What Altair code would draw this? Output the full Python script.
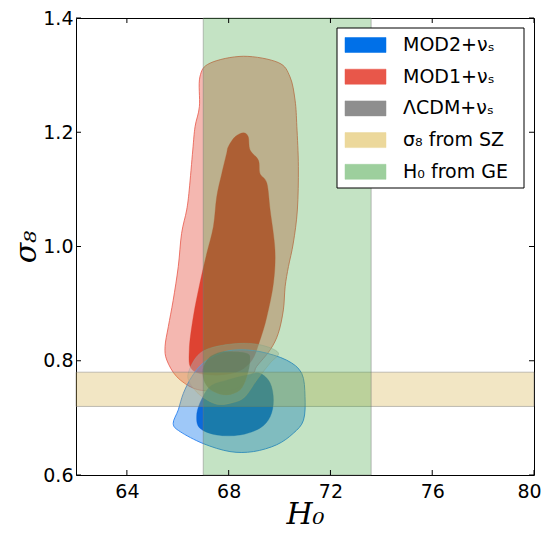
import altair as alt
import pandas as pd

# ---- data ----
x_ticks = [64, 68, 72, 76, 80]
y_ticks = [0.6, 0.8, 1.0, 1.2, 1.4]

ge_band = [67.0, 73.6]      # H0 from GE
sz_band = [0.72, 0.78]      # sigma8 from SZ

red_outer_h0 = [68.58, 69.95, 70.41, 70.61, 70.68, 70.74, 70.70, 70.54, 70.35, 70.22, 70.15, 69.95, 69.63,
                69.10, 68.97, 68.45, 68.05, 67.27, 66.61, 65.96, 65.57, 65.50, 65.63, 65.82, 66.02, 66.15,
                66.35, 66.45, 66.59, 66.68, 66.85, 66.87, 67.27]
red_outer_s8 = [1.333, 1.322, 1.297, 1.256, 1.210, 1.140, 1.064, 1.006, 0.965, 0.930, 0.889, 0.848, 0.819,
                0.790, 0.778, 0.755, 0.748, 0.747, 0.752, 0.772, 0.801, 0.825, 0.860, 0.906, 0.965, 1.023,
                1.064, 1.099, 1.169, 1.210, 1.245, 1.297, 1.321]

red_inner_h0 = [68.58, 68.77, 68.84, 69.17, 69.23, 69.50, 69.63, 69.82, 69.76, 69.50, 69.23, 68.90, 68.30,
                67.30, 66.55, 66.45, 66.61, 66.87, 67.14, 67.40, 67.53, 67.73, 67.92, 67.99, 68.25]
red_inner_s8 = [1.199, 1.192, 1.169, 1.151, 1.128, 1.111, 1.064, 0.994, 0.936, 0.877, 0.836, 0.800, 0.780,
                0.775, 0.785, 0.819, 0.877, 0.936, 0.988, 1.035, 1.087, 1.128, 1.163, 1.175, 1.192]

blue_outer_h0 = [68.32, 69.23, 70.28, 70.87, 71.00, 70.94, 70.54, 69.89, 68.97, 68.05, 67.00, 66.09, 65.82,
                 66.02, 66.22, 66.55, 67.00, 67.66]
blue_outer_s8 = [0.819, 0.816, 0.801, 0.778, 0.737, 0.696, 0.673, 0.653, 0.641, 0.641, 0.655, 0.676, 0.690,
                 0.714, 0.743, 0.772, 0.796, 0.813]

blue_inner_h0 = [69.23, 69.63, 69.76, 69.63, 69.23, 68.45, 67.53, 66.87, 66.74, 66.87, 67.27, 67.92, 68.71]
blue_inner_s8 = [0.778, 0.761, 0.731, 0.702, 0.682, 0.670, 0.670, 0.682, 0.702, 0.726, 0.755, 0.766, 0.775]

gray_outer_h0 = [66.41, 66.74, 67.27, 68.30, 69.23, 69.95, 69.63, 69.10, 68.64, 68.18, 67.53, 66.87, 66.48]
gray_outer_s8 = [0.778, 0.807, 0.822, 0.830, 0.828, 0.814, 0.796, 0.766, 0.737, 0.727, 0.724, 0.740, 0.761]

gray_inner_h0 = [67.92, 68.71, 68.84, 68.71, 68.45, 67.92, 67.40, 67.07, 66.98, 67.20, 67.53]
gray_inner_s8 = [0.816, 0.813, 0.801, 0.772, 0.749, 0.740, 0.746, 0.761, 0.784, 0.804, 0.813]

legend_labels = ["MOD2+νₛ", "MOD1+νₛ", "ΛCDM+νₛ", "σ₈ from SZ", "H₀ from GE"]
legend_colors = ["#0070e8", "#e8574a", "#8e8e8e", "#ecd89b", "#9dcf9d"]

# ---- chart ----
W, H = 458, 457
xs = alt.Scale(domain=[62, 80], nice=False, zero=False)
ys = alt.Scale(domain=[0.6, 1.4], nice=False, zero=False)
x_axis = alt.Axis(values=x_ticks, title="H₀", labelPadding=7,
                  titleX=W / 2, titleY=48, titleBaseline="alphabetic", titleAlign="center",
                  labelOffset={"condition": {"test": "datum.value == 80", "value": -5}, "value": 0})
y_axis = alt.Axis(values=y_ticks, title="σ₈", labelPadding=3, format=".1f",
                  titleX=-41, titleY=H / 2, titleBaseline="alphabetic", titleAlign="center", titleAngle=270)


def X(f):
    return alt.X(f, type="quantitative", scale=xs, axis=x_axis)


def Y(f):
    return alt.Y(f, type="quantitative", scale=ys, axis=y_axis)


def contour(h0, s8, fill, fop, stroke, sw, sop):
    df = pd.DataFrame({"h0": h0, "s8": s8, "i": list(range(len(h0)))})
    return alt.Chart(df).mark_line(
        interpolate="cardinal-closed", fill=fill, fillOpacity=fop,
        stroke=stroke, strokeWidth=sw, strokeOpacity=sop
    ).encode(x=X("h0"), y=Y("s8"), order="i:Q")


layers = [
    contour(red_outer_h0, red_outer_s8, "#e34a3a", 0.40, "#e8574a", 1.0, 0.8),
    contour(red_inner_h0, red_inner_s8, "#dc3a28", 0.93, "#dc3a28", 0.5, 0.6),
    contour(blue_outer_h0, blue_outer_s8, "#006fed", 0.38, "#2a82ee", 1.0, 0.9),
    contour(blue_inner_h0, blue_inner_s8, "#0062d8", 0.92, "#0062d8", 0.5, 0.6),
    contour(gray_outer_h0, gray_outer_s8, "#b4b4b4", 0.45, "#a0a0a0", 0.8, 0.5),
    contour(gray_inner_h0, gray_inner_s8, "#6a6a60", 0.60, "#808080", 0.5, 0.4),
]

sz_df = pd.DataFrame({"lo": [sz_band[0]], "hi": [sz_band[1]]})
ge_df = pd.DataFrame({"lo": [ge_band[0]], "hi": [ge_band[1]]})
layers.append(
    alt.Chart(sz_df).mark_rect(fill="#d4ac3a", fillOpacity=0.3, stroke="#777777", strokeOpacity=0.45, strokeWidth=1)
    .encode(y=Y("lo"), y2="hi", x=alt.value(0), x2=alt.value(W))
)
layers.append(
    alt.Chart(ge_df).mark_rect(fill="#3aa23a", fillOpacity=0.3, stroke="#777777", strokeOpacity=0.45, strokeWidth=1)
    .encode(x=X("lo"), x2="hi", y=alt.value(0), y2=alt.value(H))
)

xt = pd.DataFrame({"v": x_ticks})
yt = pd.DataFrame({"v": y_ticks})
TL = 5
layers += [
    alt.Chart(xt).mark_rule(color="black", strokeWidth=1).encode(x=X("v"), y=alt.value(H), y2=alt.value(H - TL)),
    alt.Chart(xt).mark_rule(color="black", strokeWidth=1).encode(x=X("v"), y=alt.value(0), y2=alt.value(TL)),
    alt.Chart(yt).mark_rule(color="black", strokeWidth=1).encode(y=Y("v"), x=alt.value(0), x2=alt.value(TL)),
    alt.Chart(yt).mark_rule(color="black", strokeWidth=1).encode(y=Y("v"), x=alt.value(W), x2=alt.value(W - TL)),
]

# legend (manual, inside the plot at top right)
box = pd.DataFrame({"a": [0]})
layers.append(
    alt.Chart(box).mark_rect(fill="white", stroke="black", strokeWidth=1)
    .encode(x=alt.value(261), x2=alt.value(448), y=alt.value(10), y2=alt.value(170))
)
row0, step = 27.0, 31.7
for k, (lab, col) in enumerate(zip(legend_labels, legend_colors)):
    yc = row0 + k * step
    d = pd.DataFrame({"label": [lab]})
    layers.append(
        alt.Chart(d).mark_rect(fill=col, stroke=col, strokeWidth=0.5)
        .encode(x=alt.value(269), x2=alt.value(310), y=alt.value(yc - 7.5), y2=alt.value(yc + 7.5))
    )
    layers.append(
        alt.Chart(d).mark_text(align="left", baseline="middle", font="DejaVu Sans", fontSize=19, color="black")
        .encode(x=alt.value(327), y=alt.value(yc), text="label:N")
    )

chart = alt.layer(*layers).properties(
    width=W, height=H,
    autosize=alt.AutoSizeParams(type="none"),
    padding={"left": 68, "top": 10, "right": 7, "bottom": 56},
).configure_view(
    stroke="black", strokeWidth=1
).configure_axis(
    domain=False, ticks=False, grid=False,
    labelFont="DejaVu Sans", labelFontSize=19, labelColor="black", labelFlush=False,
    labelOverlap=False,
    titleFont="DejaVu Serif", titleFontStyle="italic", titleFontWeight="normal",
    titleFontSize=30, titleColor="black",
)

chart.save("out.html", embed_options={"renderer": "svg", "actions": False})
